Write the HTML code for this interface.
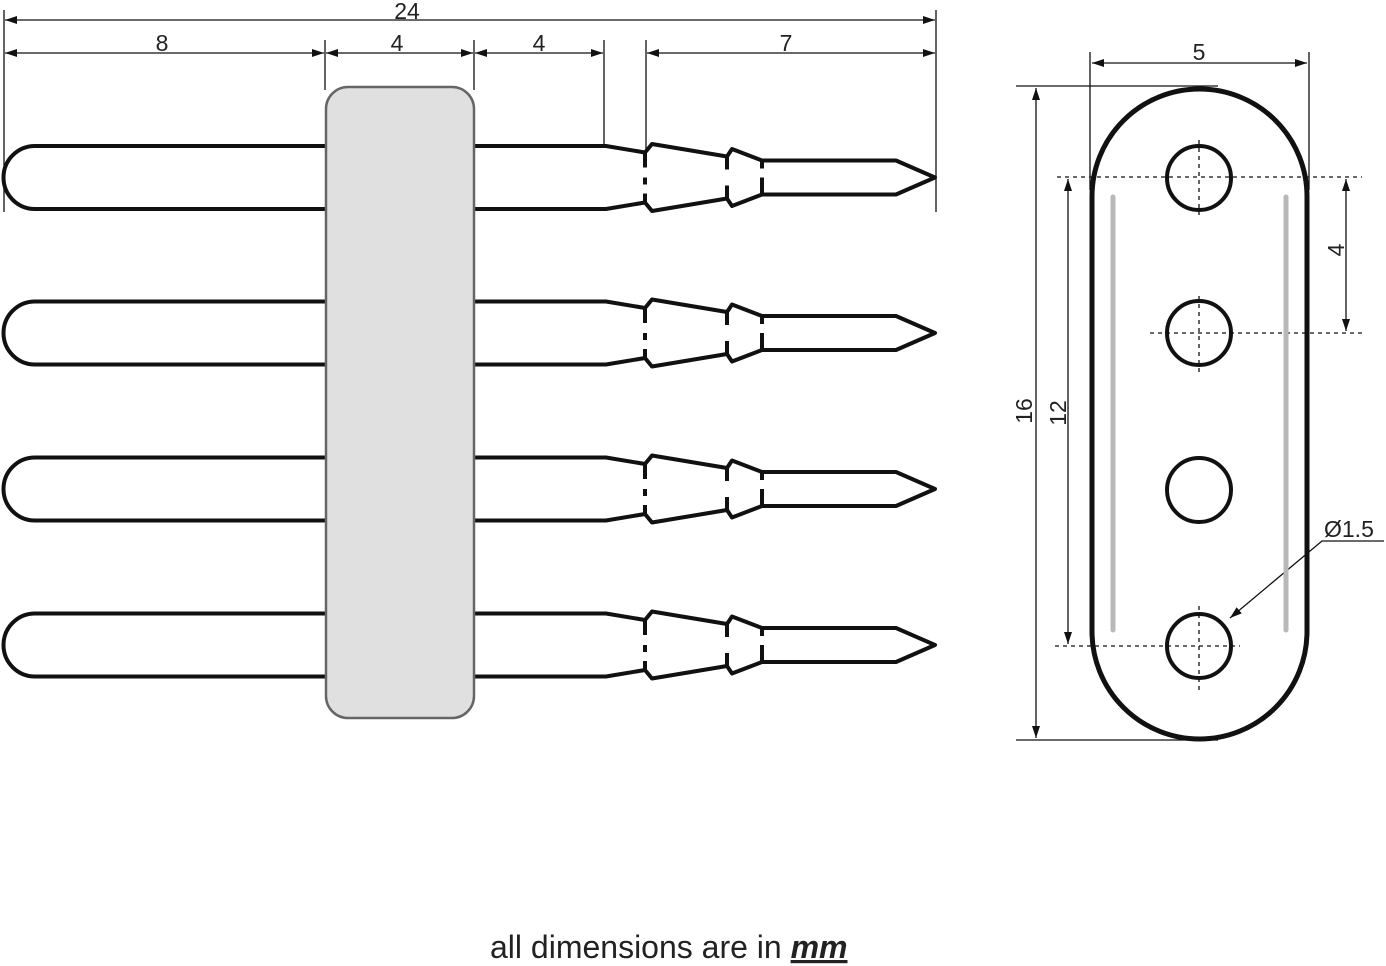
<!DOCTYPE html>
<html><head><meta charset="utf-8"><style>
html,body{margin:0;padding:0;background:#fff}
svg{display:block}
text{font-family:"Liberation Sans",sans-serif;fill:#222}
</style></head><body>
<svg width="1386" height="966" viewBox="0 0 1386 966" xmlns="http://www.w3.org/2000/svg">
<defs>
<marker id="a" viewBox="0 0 12 8" refX="12" refY="4" markerWidth="12" markerHeight="8" orient="auto-start-reverse" markerUnits="userSpaceOnUse"><path d="M0,0 L12,4 L0,8 z" fill="#111"/></marker>
<g id="pin" fill="none" stroke="#111" stroke-width="4" stroke-linejoin="round">
<path d="M330,-31.5 L35,-31.5 A31.5,31.5 0 0 0 35,31.5 L330,31.5"/>
<path d="M470,-31.5 L606,-31.5 L645,-25 L652,-33.5 L727,-21 L732,-28.5 L762,-17 L896,-17 L935,0 L896,17 L762,17 L732,28.5 L727,21 L652,33.5 L645,25 L606,31.5 L470,31.5"/>
<path d="M645,-25 V-10 M645,0 V7 M645,16 V25 M727,-21 V-8 M727,8 V21 M762,-17 V-9 M762,0 V17"/>
</g>
</defs>
<use href="#pin" y="177.5"/>
<use href="#pin" y="333"/>
<use href="#pin" y="489"/>
<use href="#pin" y="645"/>
<rect x="326" y="87" width="148" height="631" rx="22" fill="#e0e0e0" stroke="#666" stroke-width="2.5"/>
<g stroke="#111" stroke-width="1.3" fill="none">
<line x1="4" y1="10" x2="4" y2="212"/>
<line x1="936" y1="10" x2="936" y2="212"/>
<line x1="325" y1="40" x2="325" y2="90"/>
<line x1="474" y1="40" x2="474" y2="90"/>
<line x1="604" y1="40" x2="604" y2="145"/>
<line x1="646" y1="40" x2="646" y2="152"/>
<line x1="5" y1="20" x2="935" y2="20" marker-start="url(#a)" marker-end="url(#a)"/>
<line x1="5" y1="53" x2="324" y2="53" marker-start="url(#a)" marker-end="url(#a)"/>
<line x1="326" y1="53" x2="473" y2="53" marker-start="url(#a)" marker-end="url(#a)"/>
<line x1="475" y1="53" x2="603" y2="53" marker-start="url(#a)" marker-end="url(#a)"/>
<line x1="647" y1="53" x2="935" y2="53" marker-start="url(#a)" marker-end="url(#a)"/>
</g>
<g font-size="23" text-anchor="middle">
<text x="407" y="19">24</text>
<text x="162" y="51">8</text>
<text x="397" y="51">4</text>
<text x="539" y="51">4</text>
<text x="786" y="51">7</text>
</g>
<g stroke="#111" stroke-width="1.3" fill="none">
<line x1="1090" y1="52" x2="1090" y2="190"/>
<line x1="1309" y1="52" x2="1309" y2="190"/>
<line x1="1092" y1="63" x2="1307" y2="63" marker-start="url(#a)" marker-end="url(#a)"/>
<line x1="1016" y1="86" x2="1218" y2="86"/>
<line x1="1016" y1="740" x2="1218" y2="740"/>
<line x1="1036" y1="88" x2="1036" y2="738" marker-start="url(#a)" marker-end="url(#a)"/>
<line x1="1068" y1="179" x2="1068" y2="644" marker-start="url(#a)" marker-end="url(#a)"/>
<line x1="1346" y1="179" x2="1346" y2="331" marker-start="url(#a)" marker-end="url(#a)"/>
<polyline points="1384,541 1322,541 1230,618" marker-end="url(#a)"/>
</g>
<g stroke="#111" stroke-width="1.3" stroke-dasharray="4,4">
<line x1="1057" y1="177" x2="1362" y2="177"/>
<line x1="1150" y1="333" x2="1362" y2="333"/>
<line x1="1055" y1="646" x2="1240" y2="646"/>
<line x1="1199" y1="140" x2="1199" y2="215"/>
<line x1="1199" y1="296" x2="1199" y2="372"/>
<line x1="1199" y1="606" x2="1199" y2="690"/>
</g>
<line x1="1113" y1="197" x2="1113" y2="630" stroke="#b8b8b8" stroke-width="5" stroke-linecap="round"/>
<line x1="1286" y1="197" x2="1286" y2="630" stroke="#b8b8b8" stroke-width="5" stroke-linecap="round"/>
<rect x="1092" y="89" width="215" height="650" rx="107.5" fill="none" stroke="#111" stroke-width="5"/>
<g fill="none" stroke="#111" stroke-width="4">
<circle cx="1199" cy="178" r="32"/>
<circle cx="1199" cy="333" r="32"/>
<circle cx="1199" cy="490" r="32"/>
<circle cx="1199" cy="646" r="32"/>
</g>
<g font-size="23">
<text x="1199" y="60" text-anchor="middle">5</text>
<text x="1324" y="537">Ø1.5</text>
<text transform="translate(1344,250) rotate(-90)" text-anchor="middle">4</text>
<text transform="translate(1032,411) rotate(-90)" text-anchor="middle">16</text>
<text transform="translate(1066,413) rotate(-90)" text-anchor="middle">12</text>
</g>
<text x="490" y="958" font-size="32">all dimensions are in <tspan font-weight="bold" font-style="italic" text-decoration="underline">mm</tspan></text>
</svg>
</body></html>
